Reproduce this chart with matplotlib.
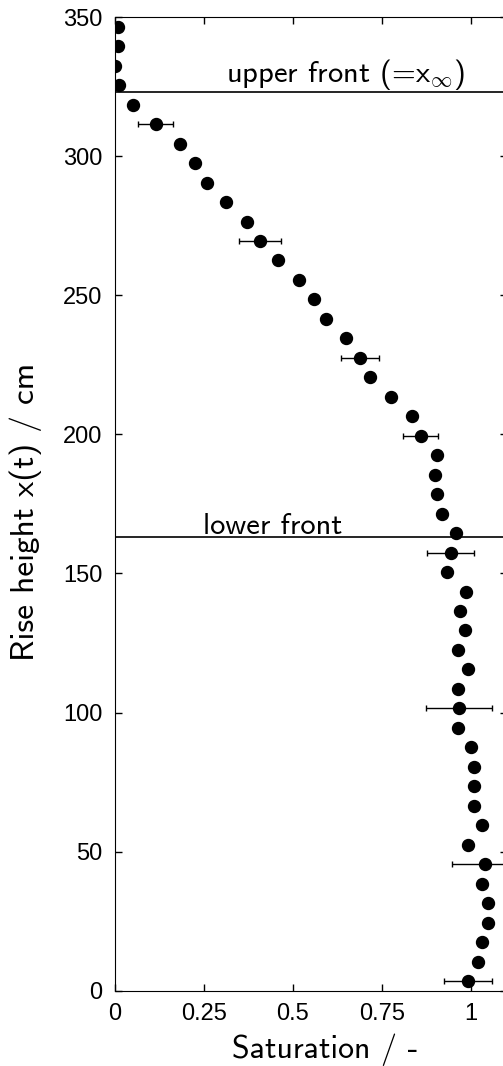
import matplotlib
matplotlib.use("Agg")
import matplotlib.pyplot as plt

plt.rcParams['mathtext.fontset'] = 'cm'
plt.rcParams['axes.unicode_minus'] = False

# rise height (cm) and measured saturation
height = [3.5, 10.5, 17.5, 24.5, 31.5, 38.5, 45.5, 52.5, 59.5, 66.5,
          73.5, 80.5, 87.5, 94.5, 101.5, 108.5, 115.5, 122.5, 129.5, 136.5,
          143.5, 150.5, 157.5, 164.5, 171.5, 178.5, 185.5, 192.5, 199.5, 206.5,
          213.5, 220.5, 227.5, 234.5, 241.5, 248.5, 255.5, 262.5, 269.5, 276.5,
          283.5, 290.5, 297.5, 304.5, 311.5, 318.5, 325.5, 332.5, 339.5, 346.5]
saturation = [0.991, 1.019, 1.030, 1.049, 1.049, 1.030, 1.039, 0.991, 1.030, 1.009,
              1.009, 1.009, 1.000, 0.963, 0.966, 0.963, 0.991, 0.963, 0.983, 0.968,
              0.986, 0.934, 0.943, 0.959, 0.919, 0.904, 0.900, 0.904, 0.859, 0.833,
              0.775, 0.716, 0.689, 0.649, 0.594, 0.560, 0.517, 0.457, 0.406, 0.371,
              0.311, 0.258, 0.226, 0.183, 0.114, 0.051, 0.011, 0.000, 0.009, 0.008]

# points with error bars
err_height = [3.5, 45.5, 101.5, 157.5, 199.5, 227.5, 269.5, 311.5]
err_sat = [0.991, 1.039, 0.966, 0.943, 0.859, 0.689, 0.406, 0.114]
err_size = [0.067, 0.092, 0.093, 0.066, 0.049, 0.053, 0.059, 0.050]

upper_front = 323
lower_front = 163

fig = plt.figure(figsize=(5.03, 10.66), dpi=100)
ax = fig.add_axes([0.2286, 0.0706, 0.7785, 0.9134])

ax.errorbar(err_sat, err_height, xerr=err_size, fmt='none', ecolor='black',
            elinewidth=1, capsize=2.5, capthick=1)
ax.plot(saturation, height, 'o', color='black', markersize=8.6)

ax.axhline(upper_front, color='black', lw=1.2)
ax.axhline(lower_front, color='black', lw=1.2)
ax.text(0.983, 326.5, r'upper front (=x$_\infty$)', ha='right', va='baseline',
        fontsize=22, family='cmss10')
ax.text(0.247, 164.3, 'lower front', ha='left', va='baseline',
        fontsize=22, family='cmss10')

ax.set_xlim(0, 1.1)
ax.set_ylim(0, 350)
ax.set_xticks([0, 0.25, 0.5, 0.75, 1])
ax.set_xticklabels(['0', '0.25', '0.5', '0.75', '1'])
ax.set_yticks([0, 50, 100, 150, 200, 250, 300, 350])
ax.tick_params(direction='in', length=5, width=1, top=True, right=True,
               labelsize=17, pad=9)
for lab in ax.get_xticklabels() + ax.get_yticklabels():
    lab.set_family('Liberation Sans')

ax.set_xlabel('Saturation / -', fontsize=23, family='cmss10')
ax.set_ylabel('Rise height x(t) / cm', fontsize=24, family='cmss10')
ax.xaxis.set_label_coords(0.536, -0.044)
ax.yaxis.set_label_coords(-0.186, 0.492)

fig.savefig('out.png', dpi=100)
